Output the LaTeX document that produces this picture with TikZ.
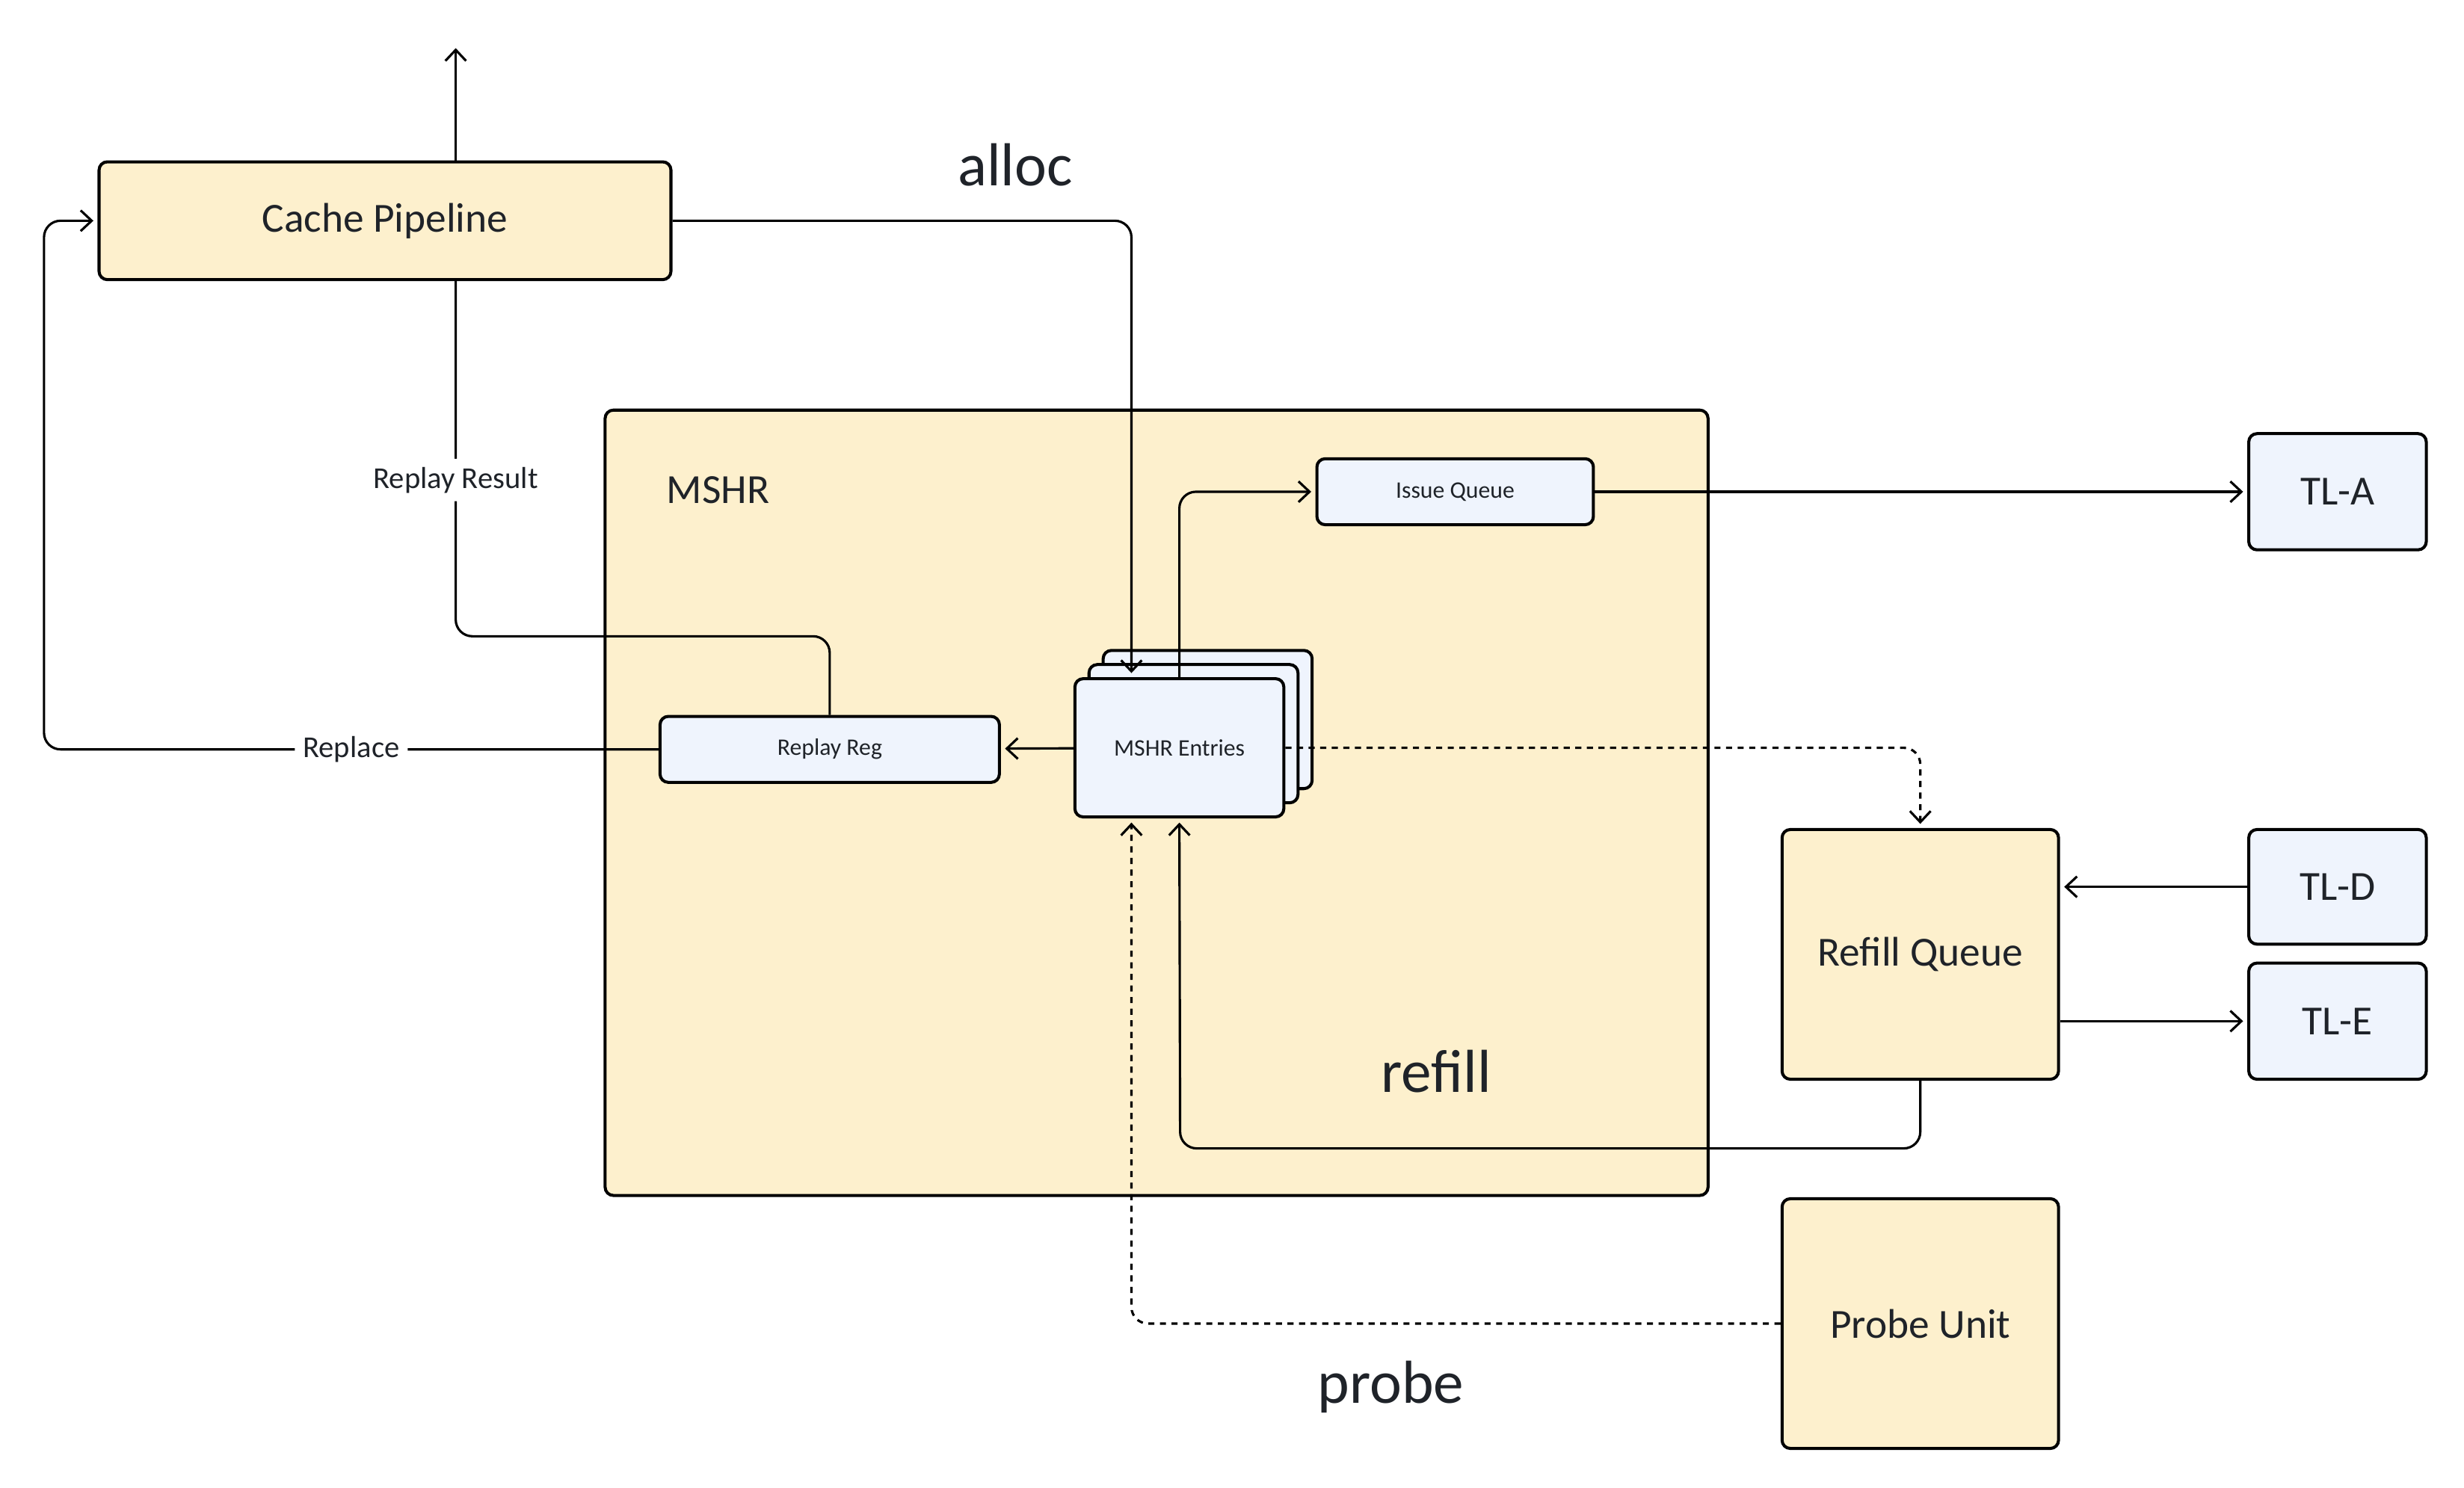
\documentclass[tikz,border=0pt]{standalone}
\usepackage{fontspec}
\setmainfont{Carlito}
\usetikzlibrary{shapes.geometric, arrows.meta}
\definecolor{paleyellow}{RGB}{253,240,205}
\definecolor{paleblue}{RGB}{239,244,253}
\definecolor{ink}{RGB}{31,35,41}
\tikzstyle{ybox} = [rectangle, rounded corners=3pt, draw=black, line width=1.1pt, fill=paleyellow, text=ink, text centered, inner sep=0pt]
\tikzstyle{bbox} = [rectangle, rounded corners=3pt, draw=black, line width=1.1pt, fill=paleblue, text=ink, text centered, inner sep=0pt]
\tikzstyle{link} = [line width=0.85pt, rounded corners=6pt]
\tikzstyle{arrow} = [link, ->, >={Straight Barb[length=4pt, width=7.5pt]}, shorten >=1.5pt]
\tikzstyle{dotline} = [dash pattern=on 2.2pt off 2pt]
\tikzstyle{lbl} = [fill=white, text=ink, inner sep=3pt, font=\fontsize{11}{13}\selectfont]
\tikzstyle{big} = [text=ink, font=\fontsize{22}{26}\selectfont]
\tikzstyle{mid} = [font=\fontsize{15}{18}\selectfont]
\tikzstyle{small} = [font=\fontsize{8.6}{10}\selectfont]

\begin{document}
\begin{tikzpicture}[x=0.02cm, y=-0.02cm]
    \useasboundingbox (0,0) rectangle (1568,947);

    % blocks
    \node (mshr)     [ybox, minimum width=14.04cm, minimum height=10cm] at (736,511) {};
    \node (mshrname) [mid, text=ink, anchor=west] at (418,312) {MSHR};
    \node (cache)    [ybox, mid, minimum width=7.28cm, minimum height=1.5cm] at (245,140.5) {Cache Pipeline};
    \node (issue)    [bbox, small, minimum width=3.52cm, minimum height=0.84cm] at (926,313) {Issue Queue};
    \node (replay)   [bbox, small, minimum width=4.32cm, minimum height=0.84cm] at (528,477) {Replay Reg};
    \node (entries3) [bbox, minimum width=2.66cm, minimum height=1.76cm] at (768.5,458) {};
    \node (entries2) [bbox, minimum width=2.66cm, minimum height=1.76cm] at (759.5,467) {};
    \node (entries)  [bbox, small, minimum width=2.66cm, minimum height=1.76cm] at (750.5,476) {MSHR Entries};
    \node (refillq)  [ybox, mid, minimum width=3.52cm, minimum height=3.18cm] at (1222,607.5) {Refill Queue};
    \node (probe)    [ybox, mid, minimum width=3.52cm, minimum height=3.18cm] at (1222,842.5) {Probe Unit};
    \node (tla)      [bbox, mid, minimum width=2.26cm, minimum height=1.48cm] at (1487.5,313) {TL-A};
    \node (tld)      [bbox, mid, minimum width=2.26cm, minimum height=1.46cm] at (1487.5,564.5) {TL-D};
    \node (tle)      [bbox, mid, minimum width=2.26cm, minimum height=1.48cm] at (1487.5,650) {TL-E};

    % channel names
    \node (alloc)  [big] at (646,105) {alloc};
    \node (refill) [big] at (914,682) {refill};
    \node (probelbl) [big] at (885,883) {probe};

    \coordinate (up)   at (290,28);
    \coordinate (acol) at (720,141);
    \coordinate (rr)   at (290,405);
    \coordinate (lane) at (28,477);
    \coordinate (rf)   at (751,731);

    \draw [arrow] (cache.north -| up) -- (up);
    \draw [arrow] (cache.east) -| (entries.north -| acol);
    \draw [arrow] (entries.north) |- (issue.west);
    \draw [arrow] (issue) -- (tla);
    \draw [arrow] (entries) -- (replay);
    \draw [link]  (replay.north) |- (rr) -- node[lbl, pos=0.44] {Replay Result} (cache.south -| rr);
    \draw [arrow] (replay.west) -- node[lbl] {Replace} (lane) |- (cache.west);
    \draw [arrow, dotline] (entries.east) -| (refillq.north);
    \draw [arrow] (tld) -- (refillq.east |- tld);
    \draw [arrow] (refillq.east |- tle) -- (tle);
    \draw [arrow] (refillq.south) |- (rf) -- (entries.south);
    \draw [arrow, dotline] (probe.west) -| (entries.south -| acol);
\end{tikzpicture}
\end{document}
